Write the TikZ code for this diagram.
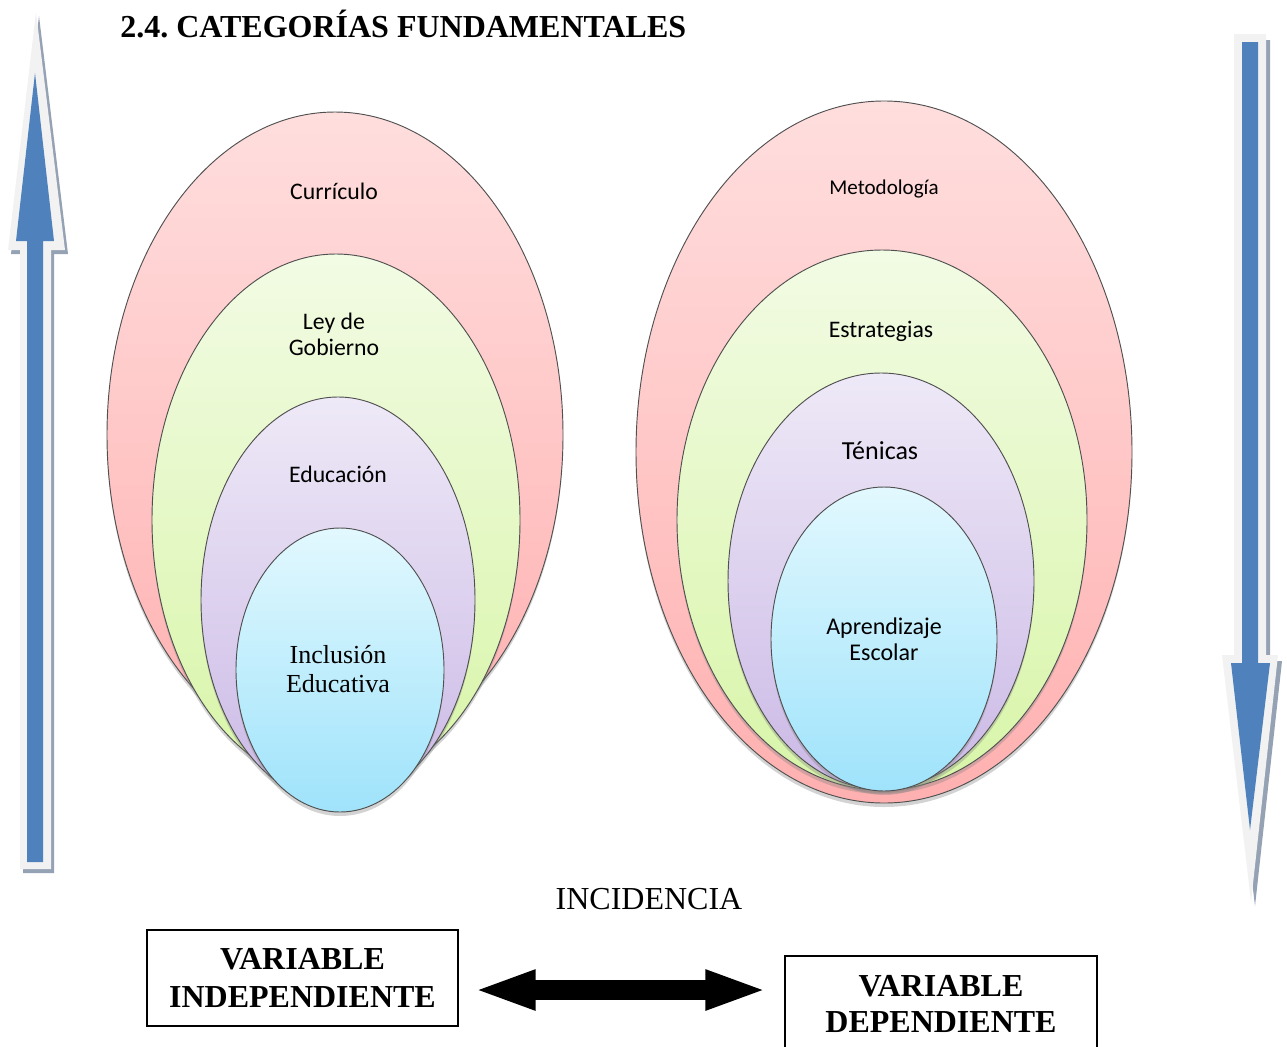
\documentclass[tikz,border=0pt]{standalone}
\usepackage{fontspec}
\setmainfont{Liberation Serif}
\newfontfamily\calib{Carlito}
\usetikzlibrary{shapes.geometric,shadows,arrows.meta}
\definecolor{arrblue}{HTML}{4F81BD}
\definecolor{arrgray}{HTML}{F2F2F2}
\definecolor{arrshadow}{HTML}{95A2B4}
\definecolor{edgegray}{HTML}{505050}
\definecolor{redtop}{HTML}{FFDEDE}
\definecolor{redbot}{HTML}{FFB0B0}
\definecolor{greentop}{HTML}{F2FBE4}
\definecolor{greenbot}{HTML}{D8F5A8}
\definecolor{purpletop}{HTML}{EEE9F7}
\definecolor{purplebot}{HTML}{CBB9E6}
\definecolor{bluetop}{HTML}{E2F8FE}
\definecolor{bluebot}{HTML}{9FE3FB}
\tikzset{
  oval/.style={ellipse, draw=edgegray, line width=0.7pt, inner sep=0pt,
    drop shadow={shadow xshift=0pt, shadow yshift=-3pt, opacity=0.35}},
  redoval/.style={oval, top color=redtop, bottom color=redbot},
  greenoval/.style={oval, top color=greentop, bottom color=greenbot},
  purpleoval/.style={oval, top color=purpletop, bottom color=purplebot},
  blueoval/.style={oval, top color=bluetop, bottom color=bluebot},
  sanslabel/.style={font=\calib, align=center, text=black},
  varbox/.style={draw=black, line width=1.5pt, inner sep=0pt, fill=white,
    font=\fontsize{24}{29}\selectfont\bfseries, align=center},
  fatarrow/.style={line width=15pt,
    {Triangle[length=47pt,width=27pt]}-{Triangle[length=47pt,width=27pt]}}
}
\begin{document}
\frenchspacing
\begin{tikzpicture}[x=0.75pt,y=-0.75pt]
\useasboundingbox (0,0) rectangle (1287,1046);
\clip (0,0) rectangle (1287,1046);

% title
\node[anchor=base west, inner sep=0pt, font=\fontsize{24}{28}\selectfont\bfseries] (title) at (120,37) {2.4. CATEGORÍAS FUNDAMENTALES};

% left vertical arrow (up)
\fill[arrshadow] (39,16) -- (68,254) -- (54,254) -- (54,873) -- (23,873) -- (23,254) -- (11,254) -- cycle;
\fill[arrgray] (36,12) -- (65,250) -- (51,250) -- (51,869) -- (20,869) -- (20,250) -- (8,250) -- cycle;
\fill[arrblue] (35,73) -- (54,241) -- (43,241) -- (43,862) -- (27,862) -- (27,241) -- (16,241) -- cycle;

% right vertical arrow (down)
\fill[arrshadow] (1238,40) -- (1270,40) -- (1270,661) -- (1282,661) -- (1255,906) -- (1226,661) -- (1238,661) -- cycle;
\fill[arrgray] (1234,34) -- (1266,34) -- (1266,655) -- (1278,655) -- (1251,902) -- (1222,655) -- (1234,655) -- cycle;
\fill[arrblue] (1242,42) -- (1258,42) -- (1258,663) -- (1270,663) -- (1250,830) -- (1231,663) -- (1242,663) -- cycle;

% left nested ellipses
\node[redoval, minimum width=456*0.75pt, minimum height=646*0.75pt] (curr) at (335,435) {};
\node[greenoval, minimum width=368*0.75pt, minimum height=532*0.75pt] (ley) at (336,520) {};
\node[purpleoval, minimum width=274*0.75pt, minimum height=406*0.75pt] (edu) at (338,600) {};
\node[blueoval, minimum width=208*0.75pt, minimum height=284*0.75pt] (incl) at (340,670) {};

\node[sanslabel, font=\calib\fontsize{17.8}{19.5}\selectfont] (tcurr) at (334,191) {Currículo};
\node[sanslabel, font=\calib\fontsize{17.8}{19.5}\selectfont] (tley) at (334,334) {Ley de\\Gobierno};
\node[sanslabel, font=\calib\fontsize{17.8}{19.5}\selectfont] (tedu) at (338,474) {Educación};
\node[align=center, font=\fontsize{19.5}{21.75}\selectfont] (tincl) at (338,669) {Inclusión\\Educativa};

% right nested ellipses
\node[redoval, minimum width=496*0.75pt, minimum height=702*0.75pt] (met) at (884,452) {};
\node[greenoval, minimum width=410*0.75pt, minimum height=540*0.75pt] (est) at (882,520) {};
\node[purpleoval, minimum width=306*0.75pt, minimum height=416*0.75pt] (tec) at (881,581) {};
\node[blueoval, minimum width=226*0.75pt, minimum height=304*0.75pt] (apr) at (884,639) {};

\node[sanslabel, font=\calib\fontsize{15.8}{18}\selectfont] (tmet) at (884,189) {Metodología};
\node[sanslabel, font=\calib\fontsize{17.8}{19.5}\selectfont] (test) at (881,331) {Estrategias};
\node[sanslabel, font=\calib\fontsize{19.5}{21}\selectfont] (ttec) at (880,451) {Ténicas};
\node[sanslabel, font=\calib\fontsize{18}{19.5}\selectfont] (tapr) at (884,639) {Aprendizaje\\Escolar};

% bottom
\node[font=\fontsize{24}{28}\selectfont] (inc) at (649,899) {INCIDENCIA};
\node[varbox, minimum width=311*0.75pt, minimum height=96*0.75pt] (vind) at (302.5,978) {VARIABLE\\INDEPENDIENTE};
\node[varbox, minimum width=312*0.75pt, minimum height=96*0.75pt, font=\fontsize{24}{27}\selectfont\bfseries] (vdep) at (941,1004) {VARIABLE\\DEPENDIENTE};

\coordinate (aL) at (473,990);
\coordinate (aR) at (768,990);
\draw[fatarrow] (aL) -- (aR);
\end{tikzpicture}
\end{document}
